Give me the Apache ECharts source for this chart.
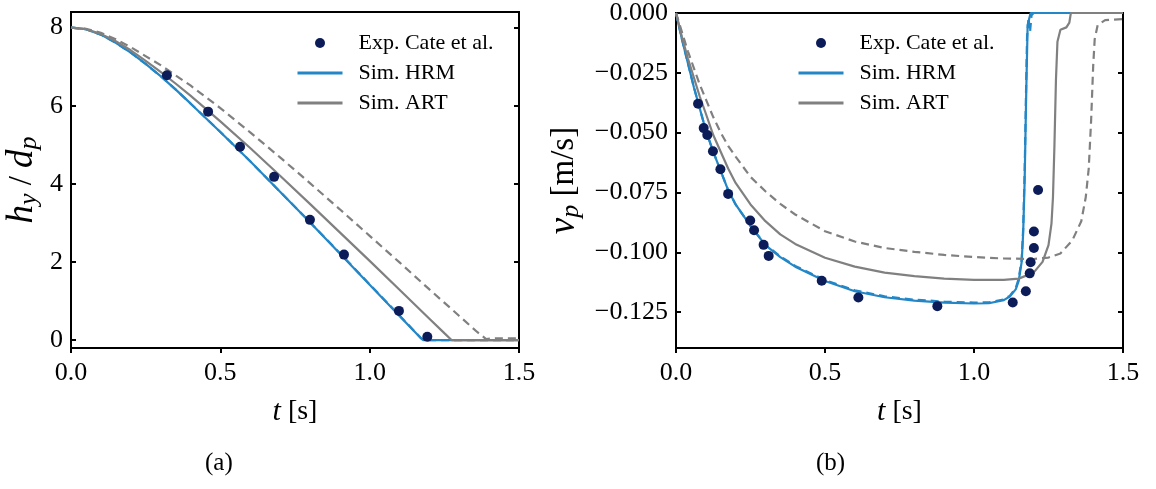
<!DOCTYPE html>
<html><head><meta charset="utf-8">
<script src="https://cdn.jsdelivr.net/npm/echarts@6/dist/echarts.min.js"></script>
<style>html,body{margin:0;padding:0;background:#fff}#c{width:1156px;height:489px}</style>
</head><body><div id="c"></div>
<script>
// ---------- tick labels ----------
const xTicks = [0, 0.5, 1.0, 1.5];
const hTicks = [0, 2, 4, 6, 8];
const vTicks = [-0.125, -0.1, -0.075, -0.05, -0.025, 0];

// ---------- panel (a): h_y / d_p ----------
const expTa = [0.321, 0.459, 0.566, 0.680, 0.800, 0.914, 1.098, 1.193];
const expH  = [6.78, 5.85, 4.95, 4.18, 3.08, 2.19, 0.75, 0.09];

const hrmTa = [0, 0.05, 0.1, 0.15, 0.2, 0.25, 0.3, 0.35, 0.4, 0.5, 0.6, 0.7, 0.8, 0.9, 1.0, 1.1, 1.15, 1.17, 1.18, 1.3, 1.4, 1.5];
const hrmH  = [8, 7.96, 7.82, 7.61, 7.36, 7.07, 6.76, 6.42, 6.06, 5.33, 4.58, 3.80, 3.02, 2.22, 1.42, 0.62, 0.22, 0.06, 0, 0, 0, 0];
const hrmDashH = [8, 7.96, 7.82, 7.61, 7.36, 7.07, 6.76, 6.42, 6.06, 5.33, 4.58, 3.80, 3.02, 2.23, 1.43, 0.63, 0.23, 0.07, 0, 0, 0, 0];

const artTa = [0, 0.05, 0.1, 0.15, 0.2, 0.25, 0.3, 0.35, 0.4, 0.5, 0.6, 0.7, 0.8, 0.9, 1.0, 1.1, 1.2, 1.25, 1.275, 1.3, 1.4, 1.5];
const artH  = [8, 7.96, 7.84, 7.65, 7.42, 7.15, 6.87, 6.57, 6.26, 5.60, 4.92, 4.21, 3.49, 2.76, 2.03, 1.29, 0.55, 0.18, 0, 0, 0, 0];

const artDashTa = [0, 0.05, 0.1, 0.15, 0.2, 0.3, 0.4, 0.5, 0.6, 0.7, 0.8, 0.9, 1.0, 1.1, 1.2, 1.3, 1.36, 1.39, 1.42, 1.5];
const artDashH  = [8, 7.97, 7.87, 7.70, 7.50, 7.04, 6.52, 5.94, 5.32, 4.68, 4.02, 3.35, 2.67, 1.99, 1.30, 0.62, 0.21, 0.03, 0.05, 0.05];

// ---------- panel (b): v_p [m/s] ----------
const expTb = [0.074, 0.093, 0.105, 0.124, 0.149, 0.175, 0.249, 0.262, 0.294, 0.311, 0.489, 0.612, 0.877, 1.130, 1.174, 1.187, 1.190, 1.201, 1.201, 1.215];
const expV  = [-0.0379, -0.0481, -0.0510, -0.0578, -0.0653, -0.0756, -0.0867, -0.0908, -0.0969, -0.1015, -0.1119, -0.1189, -0.1225, -0.1210, -0.1163, -0.1088, -0.1042, -0.0982, -0.0913, -0.0740];

const hrmTb = [0, 0.02, 0.04, 0.06, 0.08, 0.1, 0.125, 0.15, 0.175, 0.2, 0.25, 0.3, 0.35, 0.4, 0.5, 0.6, 0.7, 0.8, 0.9, 1.0, 1.05, 1.1, 1.12, 1.14, 1.15, 1.16, 1.165, 1.17, 1.175, 1.18, 1.19, 1.5];
const hrmV  = [0, -0.011, -0.021, -0.031, -0.040, -0.049, -0.058, -0.066, -0.074, -0.080, -0.089, -0.097, -0.102, -0.106, -0.1120, -0.1163, -0.1188, -0.1202, -0.1210, -0.1214, -0.1213, -0.1200, -0.1185, -0.1155, -0.112, -0.104, -0.092, -0.070, -0.035, -0.005, 0, 0];

const hrmDashTb = [0, 0.02, 0.04, 0.06, 0.08, 0.1, 0.125, 0.15, 0.175, 0.2, 0.25, 0.3, 0.35, 0.4, 0.5, 0.6, 0.7, 0.8, 0.9, 1.0, 1.05, 1.1, 1.12, 1.14, 1.15, 1.16, 1.165, 1.17, 1.175, 1.178, 1.183, 1.188, 1.193, 1.2, 1.5];
const hrmDashV  = [0, -0.011, -0.021, -0.031, -0.040, -0.049, -0.058, -0.066, -0.074, -0.080, -0.089, -0.0968, -0.1017, -0.1057, -0.1116, -0.1159, -0.1184, -0.1198, -0.1206, -0.1210, -0.1209, -0.1197, -0.1182, -0.1150, -0.111, -0.103, -0.090, -0.066, -0.030, -0.010, -0.002, -0.008, -0.001, 0, 0];

const artTb = [0, 0.02, 0.04, 0.06, 0.08, 0.1, 0.125, 0.15, 0.175, 0.2, 0.25, 0.3, 0.35, 0.4, 0.5, 0.6, 0.7, 0.8, 0.9, 1.0, 1.1, 1.15, 1.2, 1.23, 1.25, 1.26, 1.265, 1.27, 1.275, 1.28, 1.29, 1.31, 1.32, 1.325, 1.5];
const artV  = [0, -0.010, -0.019, -0.027, -0.035, -0.042, -0.051, -0.058, -0.065, -0.071, -0.080, -0.087, -0.0925, -0.0965, -0.1023, -0.1060, -0.1085, -0.1100, -0.1110, -0.1115, -0.1115, -0.1110, -0.1085, -0.104, -0.097, -0.088, -0.077, -0.055, -0.028, -0.012, -0.007, -0.006, -0.004, 0, 0];

const artDashTb = [0, 0.02, 0.04, 0.06, 0.08, 0.1, 0.125, 0.15, 0.175, 0.2, 0.25, 0.3, 0.35, 0.4, 0.5, 0.6, 0.7, 0.8, 0.9, 1.0, 1.1, 1.2, 1.25, 1.29, 1.33, 1.36, 1.375, 1.385, 1.393, 1.4, 1.405, 1.415, 1.44, 1.5];
const artDashV  = [0, -0.008, -0.016, -0.023, -0.030, -0.036, -0.0435, -0.050, -0.0555, -0.060, -0.0685, -0.0745, -0.0798, -0.0842, -0.0912, -0.0955, -0.0982, -0.0998, -0.1011, -0.1020, -0.1026, -0.1028, -0.1022, -0.1005, -0.095, -0.087, -0.077, -0.065, -0.045, -0.022, -0.011, -0.005, -0.003, -0.0025];

// ---------- styling ----------
const BLUE = '#2386c6', GREY = '#808080', NAVY = '#0c1c58';
const FONT = 'Liberation Serif';
const pairs = (xs, ys) => xs.map((x, i) => [x, ys[i]]);

const richX = {
  i: {fontFamily: FONT, fontStyle: 'italic', fontSize: 30, color: '#000'},
  n: {fontFamily: FONT, fontSize: 28, color: '#000'}
};
const richY = {
  i: {fontFamily: FONT, fontStyle: 'italic', fontSize: 37, color: '#000'},
  n: {fontFamily: FONT, fontSize: 33, color: '#000'},
  s: {fontFamily: FONT, fontStyle: 'italic', fontSize: 26, color: '#000', padding: [14, 0, 0, 0]}
};

function xAx(gi) {
  return {
    gridIndex: gi, type: 'value', min: 0, max: 1.5, interval: 0.5,
    axisLine: {show: true, onZero: false, lineStyle: {color: '#000', width: 2}},
    axisTick: {show: true, inside: false, length: 5, lineStyle: {color: '#000', width: 2}},
    axisLabel: {fontFamily: FONT, fontSize: 26, color: '#000', margin: 12, formatter: v => v.toFixed(1)},
    splitLine: {show: false},
    name: '{i|t}{n| [s]}', nameLocation: 'middle', nameGap: 49,
    nameTextStyle: {rich: richX}
  };
}
function yAx(gi, min, max, ticks, fmt, pos, name, gap) {
  const o = {
    gridIndex: gi, type: 'value', min: min, max: max, position: pos,
    axisLine: {show: true, onZero: false, lineStyle: {color: '#000', width: 2}},
    axisTick: {show: true, inside: true, length: 5, customValues: ticks, lineStyle: {color: '#000', width: 2}},
    axisLabel: {show: pos === 'left', fontFamily: FONT, fontSize: 26, color: '#000', margin: 8, customValues: ticks, formatter: fmt},
    splitLine: {show: false}
  };
  if (name) {
    o.name = name; o.nameLocation = 'middle'; o.nameGap = gap; o.nameRotate = 90;
    o.nameTextStyle = {rich: richY};
  }
  return o;
}
const hFmt = v => String(Math.round(v));
const vFmt = v => (v < -1e-9 ? '\u2212' : '') + Math.abs(v).toFixed(3);

function line(name, xi, yi, data, color, dashed, z) {
  return {
    name: name, type: 'line', xAxisIndex: xi, yAxisIndex: yi, data: data,
    symbol: 'none', smooth: false, clip: true, z: z,
    lineStyle: {color: color, width: 2.2, type: dashed ? [8, 5] : 'solid'},
    itemStyle: {color: color}
  };
}
function scatter(xi, yi, data) {
  return {
    name: 'Exp. Cate et al.', type: 'scatter', xAxisIndex: xi, yAxisIndex: yi, data: data,
    symbol: 'circle', symbolSize: 10, z: 10, itemStyle: {color: NAVY, opacity: 1}
  };
}
function legend(left) {
  return {
    orient: 'vertical', left: left, top: 27, itemWidth: 45, itemHeight: 10, itemGap: 8,
    data: [
      {name: 'Exp. Cate et al.'},
      {name: 'Sim. HRM', itemStyle: {opacity: 0}, lineStyle: {width: 3}},
      {name: 'Sim. ART', itemStyle: {opacity: 0}, lineStyle: {width: 3}}
    ],
    textStyle: {fontFamily: FONT, fontSize: 22, color: '#000', padding: [0, 0, 0, 11]},
    selectedMode: false
  };
}

const option = {
  backgroundColor: '#fff',
  animation: false,
  grid: [
    {left: 71, top: 12, width: 448, height: 336, show: true, borderColor: '#000', borderWidth: 2},
    {left: 676, top: 12, width: 447, height: 336, show: true, borderColor: '#000', borderWidth: 2}
  ],
  xAxis: [xAx(0), xAx(1)],
  yAxis: [
    yAx(0, -0.2, 8.4, hTicks, hFmt, 'left', '{i|h}{s|y}{n| / }{i|d}{s|p}', 29),
    yAx(0, -0.2, 8.4, hTicks, hFmt, 'right'),
    yAx(1, -0.14, 0, vTicks, vFmt, 'left', '{i|v}{s|p}{n| [m/s]}', 92),
    yAx(1, -0.14, 0, vTicks, vFmt, 'right')
  ],
  legend: [legend(291), legend(792)],
  graphic: [
    {type: 'text', left: 205, top: 451, style: {text: '(a)', font: '25px "Liberation Serif"', fill: '#000'}},
    {type: 'text', left: 816, top: 451, style: {text: '(b)', font: '25px "Liberation Serif"', fill: '#000'}}
  ],
  series: [
    line('Sim. HRM', 0, 0, pairs(hrmTa, hrmH), BLUE, false, 2),
    line('HRM dashed (a)', 0, 0, pairs(hrmTa, hrmDashH), BLUE, true, 2),
    line('Sim. ART', 0, 0, pairs(artTa, artH), GREY, false, 3),
    line('ART dashed (a)', 0, 0, pairs(artDashTa, artDashH), GREY, true, 3),
    scatter(0, 0, pairs(expTa, expH)),
    line('Sim. HRM', 1, 2, pairs(hrmTb, hrmV), BLUE, false, 2),
    line('HRM dashed (b)', 1, 2, pairs(hrmDashTb, hrmDashV), BLUE, true, 2),
    line('Sim. ART', 1, 2, pairs(artTb, artV), GREY, false, 3),
    line('ART dashed (b)', 1, 2, pairs(artDashTb, artDashV), GREY, true, 3),
    scatter(1, 2, pairs(expTb, expV))
  ]
};
const chart = echarts.init(document.getElementById('c'), null, {renderer: 'canvas'});
chart.setOption(option);
</script>
</body></html>
